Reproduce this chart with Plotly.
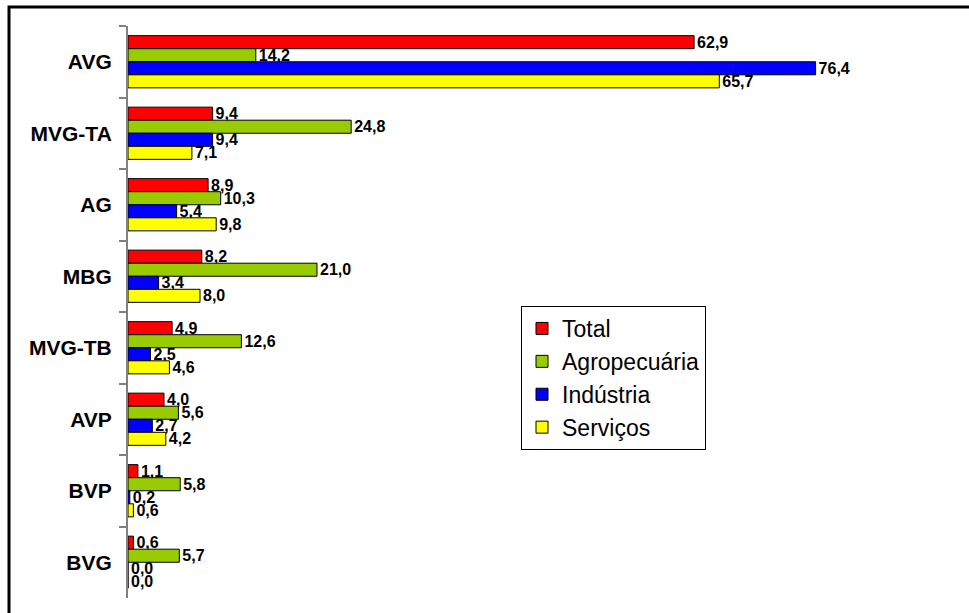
import plotly.graph_objects as go

# Categories, top to bottom
categories = ["AVG", "MVG-TA", "AG", "MBG", "MVG-TB", "AVP", "BVP", "BVG"]

# Shares (%) by sector
total = [62.9, 9.4, 8.9, 8.2, 4.9, 4.0, 1.1, 0.6]
agropecuaria = [14.2, 24.8, 10.3, 21.0, 12.6, 5.6, 5.8, 5.7]
industria = [76.4, 9.4, 5.4, 3.4, 2.5, 2.7, 0.2, 0.0]
servicos = [65.7, 7.1, 9.8, 8.0, 4.6, 4.2, 0.6, 0.0]

series_names = ["Total", "Agropecuária", "Indústria", "Serviços"]
series_values = [total, agropecuaria, industria, servicos]
series_colors = ["#FF0000", "#99CC00", "#0000FF", "#FFFF00"]

FONT = "Arial, Liberation Sans, sans-serif"


def fmt(v):
    return f"{v:.1f}".replace(".", ",")


fig = go.Figure()
for name, vals, color in zip(series_names, series_values, series_colors):
    fig.add_trace(go.Bar(
        name=name,
        y=categories,
        x=vals,
        orientation="h",
        marker=dict(color=color, line=dict(color="black", width=1)),
        text=[fmt(v) for v in vals],
        textposition="outside",
        cliponaxis=False,
        constraintext="none",
        textfont=dict(family=FONT, size=16, color="black", weight="bold"),
        legendgroup=name,
    ))

fig.update_layout(
    width=969,
    height=613,
    barmode="group",
    bargap=0.27,
    bargroupgap=0,
    paper_bgcolor="white",
    plot_bgcolor="white",
    margin=dict(l=128, r=31, t=26, b=15),
    font=dict(family=FONT, color="black"),
    showlegend=True,
    legend=dict(
        x=(521 - 128) / 810,
        y=1 - (306 - 26) / 572,
        xanchor="left",
        yanchor="top",
        bgcolor="white",
        bordercolor="black",
        borderwidth=1,
        font=dict(family=FONT, size=23, color="black"),
        traceorder="grouped",
        tracegroupgap=0,
    ),
    xaxis=dict(
        range=[0, 90],
        showline=False,
        showgrid=False,
        zeroline=False,
        showticklabels=False,
        ticks="",
    ),
    yaxis=dict(
        autorange="reversed",
        type="category",
        showline=True,
        linecolor="#808080",
        linewidth=2,
        ticks="outside",
        tickson="boundaries",
        ticklen=7,
        tickwidth=2,
        tickcolor="#808080",
        showgrid=False,
        tickfont=dict(family=FONT, size=21, color="black", weight="bold"),
        ticklabelstandoff=10,
    ),
    shapes=[
        # chart frame (top and left edges visible)
        dict(type="rect", xref="paper", yref="paper",
             x0=(9 - 128) / 810, x1=1.2,
             y0=-0.2, y1=1 + (26 - 7) / 572,
             line=dict(color="black", width=3), fillcolor="rgba(0,0,0,0)",
             layer="below"),
    ],
)

fig.write_html("out.html")
